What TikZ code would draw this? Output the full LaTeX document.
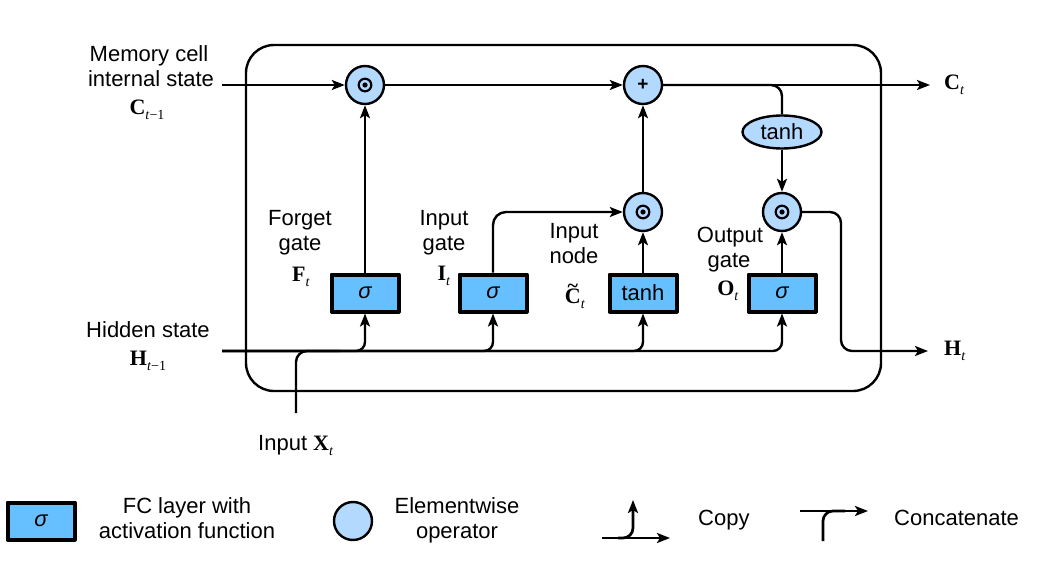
\documentclass[tikz,border=0pt]{standalone}
\usepackage[no-math]{fontspec}
\setmainfont{Liberation Sans}
\newfontfamily\tms{Liberation Serif}
\usetikzlibrary{arrows.meta,shapes.geometric}
\definecolor{fcblue}{HTML}{66BFFF}
\definecolor{opblue}{HTML}{B3D9FF}
% bold serif symbol with a small lowered index
\newcommand{\bvec}[2]{{\tms\fontsize{22}{24}\selectfont\bfseries #1}%
  \raisebox{-5pt}{\tms\fontsize{14}{14}\selectfont #2}}
% C with a tilde set above it
\newcommand{\tildeC}{\ooalign{C\cr\hidewidth\raisebox{10.5pt}{\fontsize{20}{20}\selectfont\char"7E}\hidewidth\cr}}

\begin{document}
\begin{tikzpicture}[x=1pt,y=-1pt,
  font=\fontsize{22}{26}\selectfont,
  line width=2.4pt, line join=round,
  arr/.style={-{Stealth[length=13pt,width=10pt,inset=3pt]}},
  fcbox/.style={draw, line width=4pt, fill=fcblue, minimum width=67pt,
    minimum height=37pt, inner sep=0pt},
  opcirc/.style={draw, circle, line width=2.4pt, fill=opblue, minimum size=38pt,
    inner sep=0pt},
  hadamard/.style={opcirc, path picture={
      \draw[black, line width=2.2pt] (path picture bounding box.center) circle[radius=6.3pt];
      \fill[black] (path picture bounding box.center) circle[radius=2.6pt];}},
  actell/.style={draw, ellipse, line width=2.4pt, fill=opblue, minimum width=79pt,
    minimum height=33pt, inner sep=0pt},
  lbl/.style={anchor=base, inner sep=0pt},
]
\useasboundingbox (0,0) rectangle (1042,578);

% LSTM cell frame
\node[draw, rounded corners=28pt, minimum width=635pt, minimum height=346pt,
  inner sep=0pt] (cell) at (563.5,218) {};

% elementwise operators
\node[hadamard] (fmul) at (365,85) {};
\node[opcirc, font=\fontsize{19}{20}\selectfont\bfseries] (add) at (643,85) {+};
\node[hadamard] (imul) at (643,212) {};
\node[hadamard] (omul) at (782,212) {};
\node[actell] (tanhc) at (782,132) {tanh};

% fully connected layers
\node[fcbox] (fgate) at (365,293) {\itshape σ};
\node[fcbox] (igate) at (493,293) {\itshape σ};
\node[fcbox] (inode) at (643,293) {tanh};
\node[fcbox] (ogate) at (782,293) {\itshape σ};

% free ends
\coordinate (cin) at (222,85);
\coordinate (cout) at (930,85);
\coordinate (hin) at (222,351);
\coordinate (hbend) at (841,351);
\coordinate (hout) at (928,351);
\coordinate (xin) at (296,413);
\coordinate (xj) at (340,351);

% memory cell path
\draw[arr] (cin) -- (fmul);
\draw[arr] (fmul) -- (add);
\draw[arr] (add) -- (cout);
\draw[rounded corners=11pt] (add.east) -| (tanhc.north);
\draw[arr] (tanhc) -- (omul);
\draw[arr] (imul) -- (add);

% gates into operators
\draw[arr] (fgate) -- (fmul);
\draw[arr, rounded corners=13pt] (igate.north) |- (imul.west);
\draw[arr] (inode) -- (imul);
\draw[arr] (ogate) -- (omul);

% hidden state output
\draw[arr, rounded corners=11pt] (omul.east) -| (hbend) -- (hout);

% hidden state and input copied into every layer
\draw[arr, rounded corners=9pt] (hin) -| (fgate.south);
\draw[arr, rounded corners=9pt] (hin) -| (igate.south);
\draw[arr, rounded corners=9pt] (hin) -| (inode.south);
\draw[arr, rounded corners=9pt] (hin) -| (ogate.south);
\draw[rounded corners=11pt] (xin) |- (xj);

% labels
\node[lbl] (tmem1) at (149,62) {Memory cell};
\node[lbl] (tmem2) at (151,87) {internal state};
\node[lbl] (tmem3) at (147,114) {\bvec{C}{\textit{t}−1}};
\node[lbl] (thid1) at (148,337) {Hidden state};
\node[lbl] (thid2) at (148,365) {\bvec{H}{\textit{t}−1}};
\node[lbl] (tfg1) at (300,225) {Forget};
\node[lbl] (tfg2) at (300,250) {gate};
\node[lbl] (tfg3) at (301,281) {\bvec{F}{\textit{t}}};
\node[lbl] (tig1) at (444,225) {Input};
\node[lbl] (tig2) at (444,250) {gate};
\node[lbl] (tig3) at (444,280) {\bvec{I}{\textit{t}}};
\node[lbl] (tin1) at (574,238) {Input};
\node[lbl] (tin2) at (574,263) {node};
\node[lbl] (tin3) at (575,303) {\bvec{\tildeC}{\textit{t}}};
\node[lbl] (tog1) at (730,242) {Output};
\node[lbl] (tog2) at (729,267) {gate};
\node[lbl] (tog3) at (728,295) {\bvec{O}{\textit{t}}};
\node[lbl, anchor=base west] (tx) at (257,450) {Input \bvec{X}{\textit{t}}};
\node[lbl, anchor=base west] (tct) at (943,90) {\bvec{C}{\textit{t}}};
\node[lbl, anchor=base west] (tht) at (943,355) {\bvec{H}{\textit{t}}};

% legend
\node[fcbox] (legfc) at (41,521) {\itshape σ};
\node[lbl] (legfc1) at (187,513) {FC layer with};
\node[lbl] (legfc2) at (187,538) {activation function};
\node[opcirc] (legop) at (353,521) {};
\node[lbl] (legop1) at (457,513) {Elementwise};
\node[lbl] (legop2) at (457,538) {operator};

\coordinate (cpa) at (602,538);
\coordinate (cpb) at (670,538);
\coordinate (cpc) at (618,538);
\coordinate (cpd) at (633,500);
\draw[arr, line width=2.7pt] (cpa) -- (cpb);
\draw[arr, line width=2.7pt, rounded corners=10pt] (cpc) -| (cpd);
\node[lbl, anchor=base west] (legcopy) at (697,525) {Copy};

\coordinate (cca) at (800,511);
\coordinate (ccb) at (868,511);
\coordinate (ccc) at (823,541);
\coordinate (ccd) at (845,511);
\draw[arr, line width=2.7pt] (cca) -- (ccb);
\draw[line width=2.7pt, rounded corners=10pt] (ccc) |- (ccd);
\node[lbl, anchor=base west] (legcat) at (893,525) {Concatenate};
\end{tikzpicture}
\end{document}
